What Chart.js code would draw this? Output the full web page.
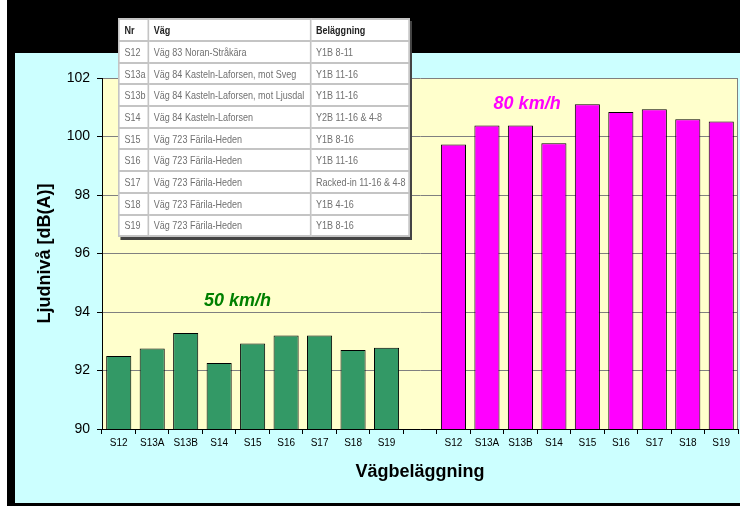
<!DOCTYPE html>
<html>
<head>
<meta charset="utf-8">
<script src="https://cdn.jsdelivr.net/npm/chart.js@4.4.0/dist/chart.umd.min.js"></script>
<style>
  html, body { margin: 0; padding: 0; background: #000; overflow: hidden; width: 740px; height: 506px; }
  #wrap { position: relative; width: 740px; height: 506px; overflow: hidden; background: #000; }
  #chart { position: absolute; left: 0; top: 0; display: block; }
  #roadTable {
    position: absolute; left: 118px; top: 18px;
    width: 356px; height: 216px;
    transform: scaleX(0.82); transform-origin: 0 0;
    border-collapse: collapse; background: #fff;
    border: 2px solid #333; box-shadow: 3px 3px 0 #444;
    font-family: "Liberation Sans", Arial, sans-serif; font-size: 11px;
    color: #707070;
  }
  #roadTable td, #roadTable th {
    border: 2px solid #c4c4c4; padding: 0 0 0 6px; text-align: left;
    white-space: nowrap; font-weight: normal;
  }
  #roadTable th { color: #222; font-weight: bold; height: 20px; }
  #roadTable td { height: 19.7px; }
</style>
</head>
<body>
<div id="wrap">
  <canvas id="chart" width="740" height="506"></canvas>
  <table id="roadTable"></table>
</div>
<script>
// categories along the x axis (the empty one is the gap between speeds)
var categories = ['S12', 'S13A', 'S13B', 'S14', 'S15', 'S16', 'S17', 'S18', 'S19', '',
                  'S12', 'S13A', 'S13B', 'S14', 'S15', 'S16', 'S17', 'S18', 'S19'];

// noise level dB(A) per road section
var values50 = [92.5, 92.75, 93.28, 92.26, 92.92, 93.2, 93.2, 92.7, 92.78];
var values80 = [99.73, 100.38, 100.38, 99.77, 101.1, 100.84, 100.93, 100.59, 100.51];

var yTicks = [90, 92, 94, 96, 98, 100, 102];

// overlay table
var tableHead = ['Nr', 'Väg', 'Beläggning'];
var tableNr = ['S12', 'S13a', 'S13b', 'S14', 'S15', 'S16', 'S17', 'S18', 'S19'];
var tableVag = ['Väg 83 Noran-Stråkära', 'Väg 84 Kasteln-Laforsen, mot Sveg',
                'Väg 84 Kasteln-Laforsen, mot Ljusdal', 'Väg 84 Kasteln-Laforsen',
                'Väg 723 Färila-Heden', 'Väg 723 Färila-Heden', 'Väg 723 Färila-Heden',
                'Väg 723 Färila-Heden', 'Väg 723 Färila-Heden'];
var tableBel = ['Y1B 8-11', 'Y1B 11-16', 'Y1B 11-16', 'Y2B 11-16 & 4-8', 'Y1B 8-16',
                'Y1B 11-16', 'Racked-in 11-16 & 4-8', 'Y1B 4-16', 'Y1B 8-16'];

var FONT = '"Liberation Sans", Arial, sans-serif';

function buildTable() {
    var t = document.getElementById('roadTable');
    var html = '<colgroup><col style="width:36px"><col style="width:199px"><col style="width:121px"></colgroup>';
    html += '<tr>' + tableHead.map(function(h) { return '<th>' + h + '</th>'; }).join('') + '</tr>';
    for (var i = 0; i < tableNr.length; i++) {
        html += '<tr><td>' + tableNr[i] + '</td><td>' + tableVag[i] + '</td><td>' + tableBel[i] + '</td></tr>';
    }
    t.innerHTML = html;
}

var nulls50 = values50.map(function() { return null; });
var nulls80 = values80.map(function() { return null; });
var data50 = values50.concat([null], nulls80);
var data80 = nulls50.concat([null], values80);

var backdrop = {
    id: 'backdrop',
    beforeDraw: function(chart) {
        var ctx = chart.ctx, a = chart.chartArea;
        ctx.save();
        ctx.fillStyle = '#000';
        ctx.fillRect(0, 0, chart.width, chart.height);
        ctx.fillStyle = '#fff';
        ctx.fillRect(0, 0, 7, chart.height);
        ctx.fillStyle = '#ccffff';
        ctx.fillRect(15, 53, chart.width - 15, 450);
        ctx.fillStyle = '#ffffcc';
        ctx.fillRect(a.left, a.top, a.right - a.left, a.bottom - a.top);
        ctx.strokeStyle = '#808080';
        ctx.lineWidth = 1;
        ctx.beginPath();
        ctx.moveTo(a.right - 0.5, a.top);
        ctx.lineTo(a.right - 0.5, a.bottom);
        ctx.stroke();
        ctx.restore();
    },
    afterDraw: function(chart) {
        var ctx = chart.ctx, a = chart.chartArea;
        var xs = chart.scales.x, ys = chart.scales.y;
        ctx.save();
        ctx.fillStyle = '#000';
        ctx.font = 'bold 18px ' + FONT;
        ctx.textAlign = 'center';
        ctx.textBaseline = 'middle';
        ctx.fillText('Vägbeläggning', (a.left + a.right) / 2, 472);
        ctx.translate(45, (a.top + a.bottom) / 2);
        ctx.rotate(-Math.PI / 2);
        ctx.fillText('Ljudnivå [dB(A)]', 0, 0);
        ctx.restore();

        ctx.save();
        ctx.font = 'italic bold 18px ' + FONT;
        ctx.textAlign = 'center';
        ctx.textBaseline = 'alphabetic';
        ctx.fillStyle = '#008000';
        ctx.fillText('50 km/h', xs.getPixelForValue(3.55), ys.getPixelForValue(94.2));
        ctx.fillStyle = '#ff00ff';
        ctx.fillText('80 km/h', xs.getPixelForValue(12.2), ys.getPixelForValue(100.93));
        ctx.restore();
    }
};

function createChart() {
    var ctx = document.getElementById('chart').getContext('2d');
    new Chart(ctx, {
        type: 'bar',
        data: {
            labels: categories,
            datasets: [
                {
                    label: '50 km/h',
                    data: data50,
                    backgroundColor: '#339966',
                    borderColor: '#000',
                    borderWidth: 1,
                    borderSkipped: false
                },
                {
                    label: '80 km/h',
                    data: data80,
                    backgroundColor: '#ff00ff',
                    borderColor: '#000',
                    borderWidth: 1,
                    borderSkipped: false
                }
            ]
        },
        options: {
            responsive: false,
            animation: false,
            devicePixelRatio: 1,
            layout: { padding: { top: 78, right: 2, left: 0, bottom: 0 } },
            datasets: { bar: { grouped: false, barPercentage: 0.75, categoryPercentage: 1 } },
            plugins: {
                legend: { display: false },
                tooltip: { enabled: false }
            },
            scales: {
                x: {
                    afterFit: function(scale) { scale.height = 77; },
                    grid: {
                        offset: true,
                        drawOnChartArea: false,
                        drawTicks: true,
                        tickLength: 5,
                        tickColor: '#000'
                    },
                    border: { display: true, color: '#000', width: 1 },
                    ticks: {
                        autoSkip: false,
                        maxRotation: 0,
                        padding: 3,
                        color: '#000',
                        font: { family: FONT, size: 10 }
                    }
                },
                y: {
                    min: yTicks[0],
                    max: yTicks[yTicks.length - 1],
                    afterFit: function(scale) { scale.width = 102; },
                    afterBuildTicks: function(scale) {
                        scale.ticks = yTicks.map(function(v) { return { value: v }; });
                    },
                    grid: {
                        color: '#808080',
                        lineWidth: 1,
                        tickLength: 5,
                        tickColor: '#000'
                    },
                    border: { display: true, color: '#000', width: 1 },
                    ticks: {
                        padding: 7,
                        color: '#000',
                        font: { family: FONT, size: 14 }
                    }
                }
            }
        },
        plugins: [backdrop]
    });
}

document.addEventListener('DOMContentLoaded', function() {
    buildTable();
    createChart();
});
</script>
</body>
</html>
